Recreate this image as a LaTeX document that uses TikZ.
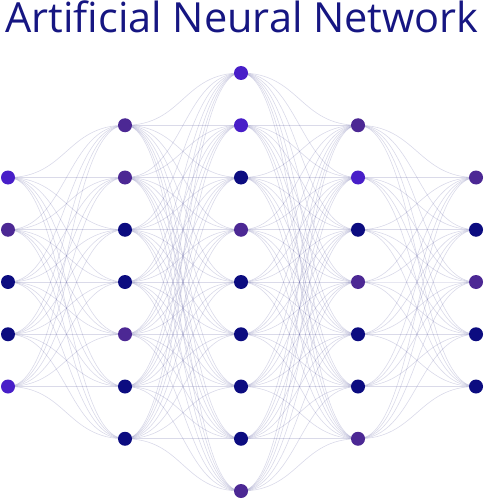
\documentclass[tikz,border=0pt]{standalone}
\usepackage{fontspec}
\setmainfont{Open Sans}
\definecolor{cviolet}{RGB}{72,30,200}
\definecolor{cpurple}{RGB}{76,40,148}
\definecolor{cnavy}{RGB}{12,12,128}
\definecolor{ctitle}{RGB}{22,22,130}
\definecolor{edgec}{RGB}{85,85,155}
\pgfdeclarelayer{background}
\pgfsetlayers{background,main}
\begin{document}
\begin{tikzpicture}[x=1pt,y=-1pt,
  neuron/.style={circle,inner sep=0pt,minimum size=14pt,draw=none},
  edge/.style={draw=edgec,line width=0.6pt,opacity=0.22},
  titletext/.style={font=\fontsize{41.5}{41.5}\selectfont,text=ctitle,inner sep=0pt,anchor=base}]
\useasboundingbox (0,0) rectangle (484,500);
\node[titletext] (title) at (242,33) {Artificial Neural Network};
\foreach \c [count=\i] in {cviolet,cpurple,cnavy,cnavy,cviolet}
  \node[neuron,fill=\c] (a\i) at (8,{177.5+52.25*(\i-1)}) {};
\foreach \c [count=\i] in {cpurple,cpurple,cnavy,cnavy,cpurple,cnavy,cnavy}
  \node[neuron,fill=\c] (b\i) at (125,{125.25+52.25*(\i-1)}) {};
\foreach \c [count=\i] in {cviolet,cviolet,cnavy,cpurple,cnavy,cnavy,cnavy,cnavy,cpurple}
  \node[neuron,fill=\c] (c\i) at (241,{73+52.25*(\i-1)}) {};
\foreach \c [count=\i] in {cpurple,cviolet,cnavy,cpurple,cnavy,cnavy,cpurple}
  \node[neuron,fill=\c] (d\i) at (358,{125.25+52.25*(\i-1)}) {};
\foreach \c [count=\i] in {cpurple,cnavy,cpurple,cnavy,cnavy}
  \node[neuron,fill=\c] (e\i) at (476,{177.5+52.25*(\i-1)}) {};
\begin{pgfonlayer}{background}
\foreach \i in {1,...,5}
  \foreach \j in {1,...,7}
    \draw[edge] (a\i.center) .. controls +(58,0) and +(-58,0) .. (b\j.center);
\foreach \i in {1,...,7}
  \foreach \j in {1,...,9}
    \draw[edge] (b\i.center) .. controls +(58,0) and +(-58,0) .. (c\j.center);
\foreach \i in {1,...,9}
  \foreach \j in {1,...,7}
    \draw[edge] (c\i.center) .. controls +(58,0) and +(-58,0) .. (d\j.center);
\foreach \i in {1,...,7}
  \foreach \j in {1,...,5}
    \draw[edge] (d\i.center) .. controls +(58,0) and +(-58,0) .. (e\j.center);
\end{pgfonlayer}
\end{tikzpicture}
\end{document}
